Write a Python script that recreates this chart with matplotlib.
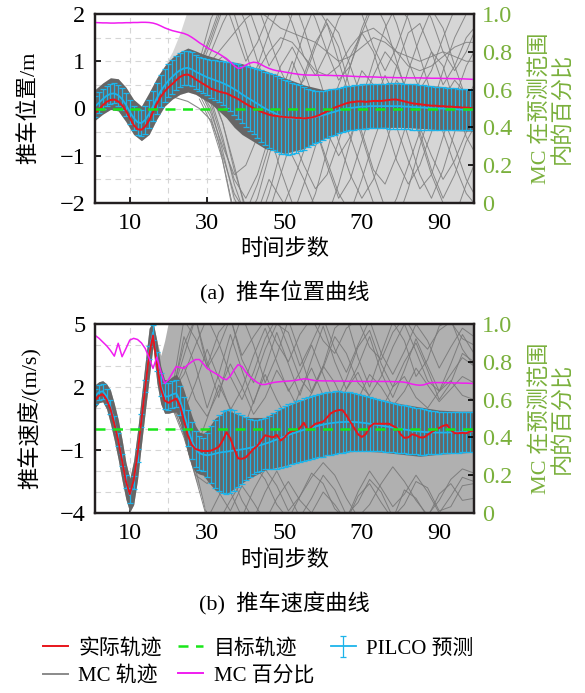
import numpy as np
import matplotlib
matplotlib.use('Agg')
import matplotlib.pyplot as plt
from matplotlib.lines import Line2D

plt.rcParams['font.family'] = ['Liberation Serif', 'Noto Sans CJK SC']
plt.rcParams['axes.unicode_minus'] = True

# 时间步
steps = np.arange(1, 100)

# ---------------- 推车位置 ----------------
pos_real = [-0.10, -0.02, 0.07, 0.14, 0.18, 0.19, 0.15, 0.07, -0.05, -0.20,
            -0.35, -0.44, -0.45, -0.38, -0.25, -0.08, 0.10, 0.25, 0.36, 0.45,
            0.52, 0.60, 0.67, 0.71, 0.72, 0.68, 0.62, 0.57, 0.52, 0.47,
            0.42, 0.39, 0.36, 0.34, 0.32, 0.28, 0.24, 0.20, 0.15, 0.10,
            0.05, 0.01, -0.03, -0.07, -0.10, -0.13, -0.15, -0.16, -0.17, -0.18,
            -0.19, -0.19, -0.20, -0.20, -0.21, -0.20, -0.19, -0.17, -0.14, -0.10,
            -0.06, -0.02, 0.02, 0.05, 0.08, 0.11, 0.13, 0.14, 0.15, 0.15,
            0.14, 0.15, 0.16, 0.16, 0.16, 0.17, 0.18, 0.19, 0.19, 0.17,
            0.15, 0.13, 0.11, 0.10, 0.09, 0.08, 0.07, 0.06, 0.06, 0.05,
            0.05, 0.04, 0.04, 0.03, 0.03, 0.02, 0.02, 0.01, 0.00]
pos_mean = [0.04, 0.12, 0.20, 0.27, 0.31, 0.32, 0.28, 0.20, 0.08, -0.07,
            -0.20, -0.29, -0.31, -0.24, -0.11, 0.05, 0.22, 0.37, 0.49, 0.59,
            0.67, 0.75, 0.81, 0.85, 0.86, 0.83, 0.78, 0.74, 0.70, 0.66,
            0.63, 0.60, 0.57, 0.54, 0.50, 0.46, 0.41, 0.36, 0.30, 0.25,
            0.20, 0.15, 0.10, 0.05, 0.00, -0.04, -0.08, -0.12, -0.16, -0.18,
            -0.20, -0.21, -0.21, -0.21, -0.21, -0.20, -0.19, -0.18, -0.16, -0.14,
            -0.12, -0.09, -0.07, -0.04, -0.02, 0.00, 0.01, 0.02, 0.03, 0.04,
            0.04, 0.05, 0.05, 0.05, 0.05, 0.05, 0.05, 0.05, 0.05, 0.05,
            0.04, 0.04, 0.03, 0.03, 0.02, 0.02, 0.01, 0.01, 0.00, 0.00,
            0.00, -0.01, -0.01, -0.01, -0.02, -0.02, -0.02, -0.03, -0.03]
pos_std = [0.22, 0.22, 0.21, 0.21, 0.21, 0.21, 0.22, 0.23, 0.24, 0.25,
           0.26, 0.27, 0.28, 0.29, 0.30, 0.32, 0.33, 0.34, 0.35, 0.35,
           0.36, 0.36, 0.36, 0.36, 0.36, 0.36, 0.36, 0.36, 0.37, 0.38,
           0.40, 0.42, 0.44, 0.46, 0.49, 0.52, 0.55, 0.58, 0.61, 0.64,
           0.67, 0.70, 0.73, 0.76, 0.78, 0.80, 0.80, 0.80, 0.80, 0.79,
           0.78, 0.76, 0.73, 0.70, 0.66, 0.62, 0.59, 0.56, 0.54, 0.52,
           0.51, 0.50, 0.49, 0.48, 0.48, 0.47, 0.47, 0.47, 0.47, 0.47,
           0.47, 0.47, 0.47, 0.47, 0.47, 0.47, 0.48, 0.48, 0.48, 0.48,
           0.48, 0.48, 0.48, 0.48, 0.47, 0.47, 0.47, 0.46, 0.46, 0.46,
           0.45, 0.45, 0.45, 0.44, 0.44, 0.44, 0.43, 0.43, 0.43]
pos_pct = [0.955, 0.954, 0.953, 0.953, 0.952, 0.952, 0.953, 0.953, 0.954, 0.954,
           0.955, 0.955, 0.956, 0.956, 0.955, 0.952, 0.946, 0.937, 0.927, 0.919,
           0.912, 0.907, 0.902, 0.897, 0.889, 0.877, 0.863, 0.848, 0.835, 0.822,
           0.810, 0.800, 0.790, 0.777, 0.764, 0.746, 0.726, 0.712, 0.716, 0.730,
           0.740, 0.745, 0.742, 0.732, 0.721, 0.712, 0.705, 0.700, 0.697, 0.693,
           0.690, 0.686, 0.683, 0.680, 0.678, 0.677, 0.677, 0.676, 0.676, 0.676,
           0.675, 0.675, 0.674, 0.674, 0.673, 0.672, 0.671, 0.670, 0.669, 0.668,
           0.668, 0.667, 0.667, 0.666, 0.665, 0.665, 0.664, 0.664, 0.663, 0.663,
           0.663, 0.662, 0.662, 0.662, 0.662, 0.661, 0.661, 0.660, 0.660, 0.660,
           0.659, 0.659, 0.658, 0.658, 0.657, 0.657, 0.656, 0.655, 0.654]

# MC 轨迹包络（密集核心 / 全部轨迹）
pos_env_t = [1, 3, 5, 7, 9, 11, 13, 15, 17, 19, 21, 23, 25, 27, 29, 31, 33, 35, 37, 39,
             41, 43, 45, 50, 55, 60, 65, 70, 75, 80, 85, 90, 95, 99]
pos_core_lo = [-0.25, -0.12, -0.02, -0.05, -0.28, -0.55, -0.68, -0.55, -0.22, 0.05,
               0.20, 0.30, 0.35, 0.30, 0.20, 0.10, -0.05, -0.20, -0.40, -0.55,
               -0.65, -0.75, -0.85, -0.95, -0.85, -0.65, -0.50, -0.42, -0.40, -0.40,
               -0.42, -0.45, -0.47, -0.48]
pos_core_hi = [0.40, 0.54, 0.65, 0.63, 0.45, 0.19, 0.05, 0.34, 0.65, 0.90,
               1.08, 1.20, 1.28, 1.22, 1.15, 1.10, 1.05, 1.00, 0.98, 0.95,
               0.90, 0.85, 0.80, 0.65, 0.50, 0.40, 0.45, 0.50, 0.52, 0.52,
               0.50, 0.47, 0.43, 0.40]
pos_cloud_lo = [-0.25, -0.12, -0.02, -0.05, -0.28, -0.55, -0.68, -0.55, -0.22, 0.05,
                0.20, 0.30, 0.35, 0.30, 0.20, -0.20, -0.70, -1.40, -2.10, -2.10,
                -2.10, -2.10, -2.10, -2.10, -2.10, -2.10, -2.10, -2.10, -2.10, -2.10,
                -2.10, -2.10, -2.10, -2.10]
pos_cloud_hi = [0.40, 0.54, 0.65, 0.63, 0.45, 0.19, 0.05, 0.34, 0.65, 0.90,
                1.20, 1.60, 2.10, 2.10, 2.10, 2.10, 2.10, 2.10, 2.10, 2.10,
                2.10, 2.10, 2.10, 2.10, 2.10, 2.10, 2.10, 2.10, 2.10, 2.10,
                2.10, 2.10, 2.10, 2.10]

# 发散的 MC 轨迹（t = 28, 31, ..., 97, 99）
pos_mc_t = [28, 31, 34, 37, 40, 43, 46, 49, 52, 55, 58, 61, 64, 67, 70, 73, 76, 79, 82, 85,
            88, 91, 94, 97, 99]
pos_mc = [
    [0.7, 1.2, 1.8, 2.3, 2.5, 2.2, 1.5, 0.8, 0.3, 0.6, 1.3, 1.9, 1.6, 0.9, 0.2, -0.4, 0.1, 0.9, 1.6, 1.8, 1.2, 0.5, 0.9, 1.5, 1.7],
    [0.6, 0.4, -0.3, -1.2, -2.2, -2.5, -1.8, -0.9, -0.1, 0.7, 1.4, 1.8, 1.3, 0.4, -0.5, -1.3, -1.6, -1.0, -0.2, 0.6, 1.2, 0.9, 0.1, -0.6, -0.9],
    [0.8, 1.0, 1.3, 1.6, 1.9, 2.1, 1.9, 1.7, 1.6, 1.5, 1.4, 1.2, 1.0, 1.1, 1.3, 1.5, 1.4, 1.2, 1.1, 1.0, 1.1, 1.2, 1.1, 1.0, 1.0],
    [0.5, 0.2, -0.6, -1.6, -2.3, -2.2, -1.5, -1.9, -2.3, -1.6, -0.8, -0.2, 0.5, 1.1, 1.6, 1.2, 0.4, -0.4, -1.1, -1.7, -1.4, -0.6, 0.2, 0.9, 1.2],
    [0.9, 1.5, 2.2, 2.4, 1.8, 1.0, 0.3, -0.4, -1.0, -1.5, -2.1, -2.3, -1.6, -0.7, 0.2, 1.0, 1.7, 2.2, 1.9, 1.1, 0.3, -0.5, -1.2, -1.8, -2.0],
    [0.4, 0.0, -0.9, -1.9, -2.4, -1.9, -1.0, -0.1, 0.8, 1.6, 2.2, 1.8, 1.0, 0.2, -0.6, -1.4, -2.1, -2.4, -1.7, -0.8, 0.0, 0.8, 1.5, 2.0, 2.2],
    [0.7, 0.9, 1.1, 0.9, 0.6, 0.8, 1.2, 1.5, 1.4, 1.1, 0.8, 0.7, 0.9, 1.3, 1.6, 1.7, 1.5, 1.2, 0.9, 0.8, 0.9, 1.1, 1.3, 1.4, 1.4],
    [0.3, -0.2, -1.0, -1.8, -2.2, -1.6, -0.8, -0.3, -0.6, -1.2, -1.7, -1.4, -0.7, 0.1, 0.8, 0.5, -0.3, -1.1, -1.6, -1.2, -0.5, 0.2, 0.6, 0.3, -0.1],
    [0.8, 1.4, 2.1, 2.5, 2.3, 1.6, 0.9, 1.3, 2.0, 2.4, 1.9, 1.2, 0.6, 0.9, 1.6, 2.2, 2.4, 1.8, 1.0, 0.4, 0.8, 1.5, 2.1, 2.3, 2.0],
    [0.5, 0.3, -0.3, -1.3, -2.1, -2.6, -2.2, -1.4, -0.6, 0.1, -0.4, -1.1, -1.8, -2.2, -1.5, -0.7, 0.0, 0.6, 0.2, -0.5, -1.3, -1.9, -1.4, -0.7, -0.4],
    [0.6, 0.8, 0.5, 0.1, 0.3, 0.9, 1.6, 2.2, 2.4, 1.7, 0.9, 0.1, -0.7, -1.4, -1.9, -1.5, -0.8, 0.0, 0.8, 1.5, 2.1, 1.7, 0.9, 0.2, -0.2],
    [0.4, -0.1, -0.8, -1.4, -1.2, -0.6, 0.2, 0.9, 1.3, 0.8, 0.1, -0.5, -1.0, -0.6, 0.1, 0.7, 1.2, 0.9, 0.3, -0.4, -1.0, -1.5, -1.1, -0.5, -0.3],
    [0.9, 1.6, 2.3, 2.0, 1.2, 0.4, -0.5, -1.3, -2.0, -2.4, -1.8, -0.9, 0.0, 0.9, 1.7, 2.3, 1.8, 1.0, 0.2, -0.6, -1.4, -2.0, -2.3, -1.6, -1.2],
    [0.2, -0.3, -1.1, -2.2, -2.6, -2.3, -2.5, -2.2, -1.6, -0.9, -0.3, 0.3, 0.0, -0.6, -1.3, -2.0, -2.4, -1.9, -1.2, -0.5, 0.1, -0.2, -0.8, -1.5, -1.8],
    [1.0, 1.9, 2.4, 1.7, 1.0, 1.4, 2.0, 2.4, 1.8, 1.1, 0.7, 1.2, 1.9, 2.3, 2.0, 1.3, 0.8, 1.3, 2.0, 2.4, 1.9, 1.2, 0.8, 1.2, 1.6],
    [0.6, 0.1, -0.7, -1.5, -1.9, -1.4, -0.6, 0.3, 1.0, 0.4, -0.4, -1.2, -1.9, -1.5, -0.7, 0.1, 0.7, 0.2, -0.6, -1.4, -1.9, -1.3, -0.5, 0.2, 0.5],
]
# 偏离主束的一条轨迹
pos_out_t = [19, 21, 23, 25, 28, 31, 33, 35, 37]
pos_out = [0.30, 0.25, 0.20, 0.15, 0.00, -0.25, -0.70, -1.50, -2.30]

# ---------------- 推车速度 ----------------
vel_real = [1.35, 1.58, 1.65, 1.40, 0.95, 0.25, -0.55, -1.50, -2.50, -3.10,
            -2.45, -1.20, 0.40, 2.00, 3.55, 4.45, 3.10, 1.95, 1.35, 1.25,
            1.35, 1.45, 1.10, 0.40, -0.30, -0.75, -0.95, -1.02, -1.05, -1.05,
            -1.03, -0.95, -0.85, -0.55, -0.15, -0.45, -0.95, -1.40, -1.42, -1.35,
            -1.15, -0.95, -0.80, -0.55, -0.30, -0.35, -0.40, -0.28, -0.55, -0.40,
            -0.20, -0.10, -0.05, 0.05, 0.30, -0.05, 0.10, 0.25, 0.30, 0.35,
            0.55, 0.75, 0.85, 0.90, 0.90, 0.65, 0.35, 0.05, -0.25, -0.38,
            -0.25, 0.10, 0.25, 0.25, 0.25, 0.25, 0.25, 0.15, 0.05, -0.25,
            -0.42, -0.40, -0.25, -0.30, -0.40, -0.40, -0.28, -0.15, -0.05, 0.05,
            0.15, 0.20, -0.05, -0.20, -0.20, -0.18, -0.20, -0.12, -0.10]
vel_mean = [1.55, 1.75, 1.80, 1.55, 1.05, 0.32, -0.50, -1.48, -2.50, -3.15,
            -2.55, -1.25, 0.40, 2.05, 3.65, 4.60, 3.20, 2.10, 1.55, 1.55,
            1.65, 1.70, 1.35, 0.75, 0.05, -0.55, -0.95, -1.15, -1.22, -1.25,
            -1.22, -1.18, -1.13, -1.10, -1.08, -1.05, -1.02, -1.00, -0.97, -0.94,
            -0.90, -0.86, -0.81, -0.76, -0.70, -0.64, -0.57, -0.50, -0.43, -0.36,
            -0.29, -0.22, -0.16, -0.10, -0.04, 0.02, 0.07, 0.12, 0.17, 0.21,
            0.25, 0.28, 0.30, 0.32, 0.33, 0.34, 0.34, 0.33, 0.32, 0.30,
            0.28, 0.25, 0.22, 0.19, 0.16, 0.13, 0.10, 0.07, 0.04, 0.01,
            -0.02, -0.05, -0.08, -0.10, -0.12, -0.14, -0.15, -0.16, -0.17, -0.17,
            -0.17, -0.17, -0.16, -0.16, -0.15, -0.15, -0.14, -0.14, -0.13]
vel_std = [0.35, 0.35, 0.35, 0.35, 0.33, 0.30, 0.30, 0.30, 0.30, 0.35,
           0.30, 0.30, 0.30, 0.30, 0.30, 0.35, 0.45, 0.55, 0.62, 0.65,
           0.65, 0.65, 0.70, 0.78, 0.85, 0.88, 0.85, 0.80, 0.80, 1.05,
           1.35, 1.62, 1.82, 1.95, 2.00, 2.00, 1.92, 1.78, 1.65, 1.50,
           1.38, 1.30, 1.25, 1.22, 1.22, 1.28, 1.34, 1.39, 1.42, 1.44,
           1.46, 1.47, 1.48, 1.49, 1.50, 1.51, 1.52, 1.52, 1.52, 1.52,
           1.51, 1.50, 1.49, 1.47, 1.45, 1.43, 1.41, 1.38, 1.36, 1.33,
           1.31, 1.29, 1.27, 1.25, 1.23, 1.21, 1.20, 1.18, 1.17, 1.15,
           1.14, 1.13, 1.12, 1.11, 1.10, 1.08, 1.06, 1.04, 1.02, 1.00,
           0.99, 0.98, 0.98, 0.97, 0.97, 0.96, 0.96, 0.96, 0.96]
vel_pct = [0.940, 0.925, 0.905, 0.885, 0.860, 0.830, 0.898, 0.827, 0.870, 0.915,
           0.924, 0.918, 0.900, 0.870, 0.820, 0.765, 0.825, 0.750, 0.686, 0.705,
           0.740, 0.775, 0.770, 0.765, 0.785, 0.800, 0.812, 0.812, 0.790, 0.765,
           0.752, 0.740, 0.728, 0.712, 0.705, 0.725, 0.758, 0.785, 0.775, 0.745,
           0.722, 0.705, 0.690, 0.680, 0.680, 0.685, 0.690, 0.693, 0.695, 0.697,
           0.698, 0.700, 0.702, 0.706, 0.710, 0.708, 0.704, 0.700, 0.700, 0.699,
           0.699, 0.699, 0.698, 0.698, 0.698, 0.697, 0.697, 0.697, 0.697, 0.696,
           0.696, 0.696, 0.696, 0.696, 0.696, 0.696, 0.696, 0.695, 0.695, 0.694,
           0.692, 0.688, 0.682, 0.678, 0.676, 0.678, 0.685, 0.690, 0.690, 0.690,
           0.690, 0.689, 0.689, 0.688, 0.688, 0.687, 0.687, 0.686, 0.685]

vel_env_t = [1, 2, 3, 4, 5, 6, 7, 8, 9, 10, 11, 12, 13, 14, 15, 16, 17, 18, 19, 20,
             21, 22, 23, 24, 25, 26, 27, 28, 29, 30, 32, 35, 40, 45, 50, 55, 60, 65, 70, 75,
             80, 85, 90, 95, 99]
vel_core_lo = [1.00, 1.25, 1.30, 0.95, 0.25, -0.55, -1.45, -2.45, -3.35, -3.95,
               -3.60, -2.40, -0.75, 0.85, 2.40, 3.95, 2.20, 1.20, 0.75, 0.75,
               0.80, 0.80, 0.35, -0.35, -1.15, -1.75, -2.05, -2.15, -2.20, -2.45,
               -2.90, -3.10, -2.45, -1.95, -1.75, -1.50, -1.30, -1.10, -1.05, -1.10,
               -1.20, -1.30, -1.20, -1.15, -1.10]
vel_core_hi = [2.10, 2.25, 2.30, 2.15, 1.85, 1.20, 0.45, -0.50, -1.60, -2.35,
               -1.50, -0.10, 1.55, 3.20, 4.80, 5.10, 4.20, 3.00, 2.35, 2.35,
               2.50, 2.60, 2.35, 1.85, 1.25, 0.65, 0.15, -0.15, -0.20, -0.05,
               0.50, 0.90, 0.55, 0.55, 1.05, 1.40, 1.70, 1.80, 1.65, 1.40,
               1.20, 1.05, 0.90, 0.85, 0.85]
vel_cloud_lo = [1.00, 1.25, 1.30, 0.95, 0.25, -0.55, -1.45, -2.45, -3.35, -3.95,
                -3.60, -2.40, -0.75, 0.85, 2.40, 3.95, 2.20, 1.20, 0.75, 0.75,
                0.80, 0.80, 0.35, -0.40, -1.20, -1.80, -2.40, -2.90, -3.50, -4.10,
                -4.10, -4.10, -4.10, -4.10, -4.10, -4.10, -4.10, -4.10, -4.10, -4.10,
                -4.10, -4.10, -4.10, -4.10, -4.10]
vel_cloud_hi = [2.10, 2.25, 2.30, 2.15, 1.85, 1.20, 0.45, -0.50, -1.60, -2.35,
                -1.50, -0.10, 1.55, 3.20, 4.80, 5.10, 4.20, 3.50, 4.20, 5.10,
                5.10, 5.10, 5.10, 5.10, 5.10, 5.10, 5.10, 5.10, 5.10, 5.10,
                5.10, 5.10, 5.10, 5.10, 5.10, 5.10, 5.10, 5.10, 5.10, 5.10,
                5.10, 5.10, 5.10, 5.10, 5.10]

vel_mc_t = [21, 24, 27, 30, 33, 36, 39, 42, 45, 48, 51, 54, 57, 60, 63, 66, 69, 72, 75, 78,
            81, 84, 87, 90, 93, 96, 99]
vel_mc = [
    [1.7, 3.5, 5.3, 3.2, 1.5, 3.8, 5.4, 4.0, 2.2, 3.5, 5.2, 3.6, 1.8, 3.0, 4.8, 5.3, 3.4, 2.0, 3.6, 5.1, 4.2, 2.5, 3.3, 4.9, 5.2, 3.8, 3.0],
    [1.6, 4.4, 3.0, 1.0, 2.6, 4.5, 2.8, 1.2, 2.9, 4.6, 3.1, 1.6, 3.3, 4.9, 3.2, 1.9, 3.0, 4.4, 2.7, 1.5, 2.8, 4.3, 3.0, 1.8, 3.1, 4.5, 3.6],
    [1.8, 2.6, 4.0, 5.3, 4.1, 2.5, 1.4, 2.7, 4.3, 5.3, 3.9, 2.4, 1.7, 2.9, 4.4, 3.6, 2.2, 1.6, 2.5, 3.9, 5.0, 3.7, 2.3, 1.8, 2.6, 3.4, 3.0],
    [1.5, 0.8, 2.2, 3.8, 2.4, 0.9, 1.9, 3.5, 4.8, 3.2, 1.8, 2.7, 4.0, 2.6, 1.2, 2.4, 3.9, 4.7, 3.1, 2.0, 3.2, 4.1, 2.8, 1.4, 2.2, 3.6, 3.2],
    [1.9, 5.2, 4.3, 3.0, 4.6, 5.3, 3.5, 4.4, 5.2, 4.1, 3.2, 4.5, 5.3, 4.2, 3.6, 4.8, 5.2, 3.9, 3.3, 4.6, 5.3, 4.4, 3.8, 4.7, 5.1, 4.3, 4.0],
    [1.6, 3.0, 1.4, 0.6, 1.8, 3.1, 2.0, 0.7, 1.5, 2.8, 1.9, 0.8, 1.7, 3.0, 2.2, 1.0, 1.4, 2.6, 2.0, 1.1, 1.8, 2.9, 2.1, 1.3, 1.9, 2.5, 2.2],
    [1.7, 4.0, 5.3, 2.9, 3.9, 5.3, 3.3, 2.2, 3.8, 5.0, 4.6, 3.0, 4.1, 5.3, 3.8, 2.7, 4.0, 5.2, 3.6, 2.6, 3.7, 5.0, 4.2, 2.9, 3.9, 4.8, 4.4],
    [1.4, 0.2, -1.0, 0.5, 2.1, 1.0, -0.2, 1.3, 2.6, 1.4, 0.4, 1.8, 2.9, 1.6, 0.7, 1.9, 2.7, 1.5, 0.9, 2.0, 2.5, 1.5, 1.0, 1.8, 2.3, 1.6, 1.4],
    [1.3, -0.3, -2.3, -4.3, -3.2, -2.1, -3.4, -4.3, -3.0, -2.0, -3.1, -4.2, -3.3, -2.2, -2.9, -4.1, -3.5, -2.4, -3.0, -4.2, -3.6, -2.5, -2.8, -3.9, -3.7, -2.7, -2.6],
    [1.0, -0.4, -2.2, -2.6, -1.8, -3.0, -4.2, -2.9, -1.9, -2.7, -3.9, -3.2, -2.1, -2.6, -3.8, -4.3, -3.0, -2.0, -2.8, -3.7, -3.1, -2.2, -3.0, -4.0, -3.2, -2.3, -2.5],
    [1.5, 0.0, -1.9, -4.2, -4.4, -3.4, -2.5, -1.7, -2.4, -3.6, -4.3, -3.2, -2.3, -1.6, -2.2, -3.3, -4.2, -3.6, -2.6, -1.8, -2.5, -3.4, -4.1, -3.4, -2.4, -1.9, -2.1],
    [1.1, -0.2, -2.0, -1.6, -3.0, -3.9, -2.7, -3.5, -4.4, -3.3, -2.5, -3.4, -4.0, -3.0, -3.6, -4.4, -3.2, -2.6, -3.5, -4.3, -2.9, -3.3, -4.2, -3.1, -2.6, -3.4, -3.3],
]

C_RED = '#e8151b'
C_GREEN = '#19e619'
C_CYAN = '#1db4ea'
C_MAG = '#f01df0'
C_GRAY = '#8a8a8a'
C_AXIS2 = '#7ab03c'


def draw_panel(ax, real, mean, std, pct, env_t, core_lo, core_hi, cloud_lo, cloud_hi,
               mc_t, mc, cloud_color, line_color, ylim, ymajor, yminor):
    ax.fill_between(env_t, cloud_lo, cloud_hi, color=cloud_color, lw=0, zorder=1)
    for traj in mc:
        ax.plot(mc_t, traj, color=line_color, lw=0.7, alpha=0.9, zorder=2)
    ax.fill_between(env_t, core_lo, core_hi, color='#666666', lw=0, zorder=3)
    eb = ax.errorbar(steps, mean, yerr=std, color=C_CYAN, lw=1.3, elinewidth=0.9,
                     capsize=2.3, capthick=0.9, zorder=4)
    ax.plot(steps, real, color=C_RED, lw=1.4, zorder=5)
    ax.axhline(0, color=C_GREEN, ls=(0, (4, 3)), lw=1.8, zorder=6)

    ax.set_xlim(1, 99)
    ax.set_ylim(*ylim)
    ax.set_xticks([10, 30, 50, 70, 90])
    ax.set_xticks([20, 40, 60, 80], minor=True)
    ax.set_yticks(ymajor)
    ax.set_yticks(yminor, minor=True)
    ax.set_axisbelow(True)
    ax.grid(which='both', ls=(0, (5, 4)), color='#d5d5d5', lw=0.8)
    ax.tick_params(which='major', direction='in', length=4, width=1.2, labelsize=17.5,
                   top=False, right=False, pad=7)
    ax.tick_params(which='minor', length=0)

    ax2 = ax.twinx()
    ax2.plot(steps, pct, color=C_MAG, lw=1.1)
    ax2.set_ylim(0, 1.0)
    ax2.set_yticks([0, 0.2, 0.4, 0.6, 0.8, 1.0])
    ax2.set_yticklabels(['0', '0.2', '0.4', '0.6', '0.8', '1.0'])
    ax2.tick_params(direction='in', length=4, width=1.2, labelsize=17.5,
                    labelcolor=C_AXIS2, pad=6)
    for a in (ax, ax2):
        for sp in a.spines.values():
            sp.set_linewidth(1.6)
            sp.set_color('#231f20')
    return eb


fig = plt.figure(figsize=(5.85, 6.93), dpi=100)
ax_pos = fig.add_axes([95 / 585, 1 - 203 / 693, 379 / 585, 189 / 693])
ax_vel = fig.add_axes([95 / 585, 1 - 513 / 693, 379 / 585, 189 / 693])

draw_panel(ax_pos, pos_real, pos_mean, pos_std, pos_pct, pos_env_t,
           pos_core_lo, pos_core_hi, pos_cloud_lo, pos_cloud_hi,
           pos_mc_t, pos_mc, '#d6d6d6', '#808080', (-2, 2),
           [-2, -1, 0, 1, 2], [-1.5, -0.5, 0.5, 1.5])
ax_pos.plot(pos_out_t, pos_out, color=C_GRAY, lw=0.8, zorder=2)

eb = draw_panel(ax_vel, vel_real, vel_mean, vel_std, vel_pct, vel_env_t,
                vel_core_lo, vel_core_hi, vel_cloud_lo, vel_cloud_hi,
                vel_mc_t, vel_mc, '#b0b0b0', '#787878', (-4, 5),
                [-4, -1, 2, 5], [-3, -2, 0, 1, 3, 4])

# 轴标题与子图标题
cjk = 16
fig.text(30 / 585, 1 - 108 / 693, '推车位置/m', rotation=90, ha='center', va='center', fontsize=cjk)
fig.text(30 / 585, 1 - 418 / 693, '推车速度/(m/s)', rotation=90, ha='center', va='center', fontsize=cjk)
for yc in (108, 418):
    fig.text(552 / 585, 1 - yc / 693, 'MC 在预测范围\n内的百分比', rotation=90, ha='center',
             va='center', multialignment='center', linespacing=1.05, fontsize=cjk, color=C_AXIS2)
fig.text(284.5 / 585, 1 - 250 / 693, '时间步数', ha='center', va='center', fontsize=cjk)
fig.text(284.5 / 585, 1 - 561 / 693, '时间步数', ha='center', va='center', fontsize=cjk)
fig.text(284.5 / 585, 1 - 293 / 693, '(a)  推车位置曲线', ha='center', va='center', fontsize=cjk)
fig.text(284.5 / 585, 1 - 604 / 693, '(b)  推车速度曲线', ha='center', va='center', fontsize=cjk)

# 图例
h_red = Line2D([], [], color=C_RED, lw=1.4)
h_green = Line2D([], [], color=C_GREEN, lw=1.8, ls=(0, (4, 3)))
h_gray = Line2D([], [], color=C_GRAY, lw=1.4)
h_mag = Line2D([], [], color=C_MAG, lw=1.4)
fig.legend([h_red, h_gray, h_green, h_mag, eb],
           ['实际轨迹', 'MC 轨迹', '目标轨迹', 'MC 百分比', 'PILCO 预测'],
           ncol=3, loc='upper left', bbox_to_anchor=(24 / 585, 1 - 620 / 693),
           frameon=False, fontsize=15, handlelength=1.2, handletextpad=0.5,
           columnspacing=0.8, labelspacing=0.35)

fig.savefig('out.png', dpi=100)
